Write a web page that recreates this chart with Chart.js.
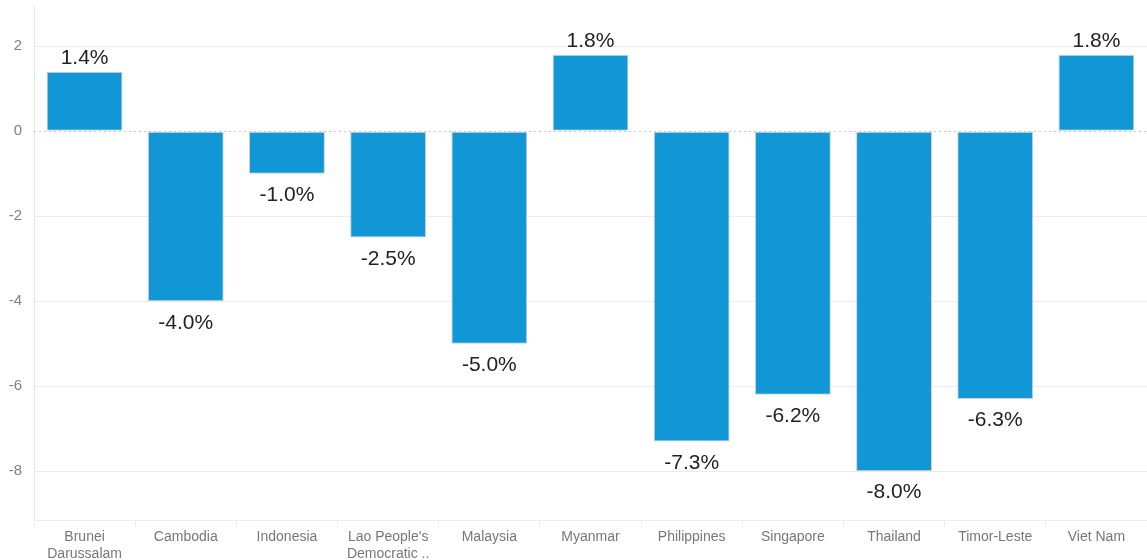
<!DOCTYPE html>
<html>
<head>
<meta charset="utf-8">
<script src="https://cdn.jsdelivr.net/npm/chart.js@4.4.1/dist/chart.umd.min.js"></script>
<style>
  html, body { margin: 0; padding: 0; background: #fff; }
  #wrap { width: 1147px; height: 560px; position: relative; }
</style>
</head>
<body>
<div id="wrap"><canvas id="growthChart"></canvas></div>
<script>
// Dados
const countries = [
    ['Brunei', 'Darussalam'], 'Cambodia', 'Indonesia', ["Lao People's", 'Democratic ..'],
    'Malaysia', 'Myanmar', 'Philippines', 'Singapore', 'Thailand', 'Timor-Leste', 'Viet Nam'
];
const growth = [1.4, -4.0, -1.0, -2.5, -5.0, 1.8, -7.3, -6.2, -8.0, -6.3, 1.8];
const yTicks = [2, 0, -2, -4, -6, -8];

const barColor = '#1297d6';
const font = 'Liberation Sans, Arial, Helvetica, sans-serif';

// Rótulos de valor acima/abaixo das barras + linha pontilhada do zero
const valueLabels = {
    id: 'valueLabels',
    beforeDatasetsDraw(chart) {
        const { ctx, chartArea, scales } = chart;
        const y0 = scales.y.getPixelForValue(0);
        ctx.save();
        ctx.strokeStyle = '#c8c8c8';
        ctx.lineWidth = 1;
        ctx.setLineDash([2, 3]);
        ctx.beginPath();
        ctx.moveTo(chartArea.left, Math.round(y0) + 0.5);
        ctx.lineTo(chartArea.right, Math.round(y0) + 0.5);
        ctx.stroke();
        ctx.restore();
    },
    afterDatasetsDraw(chart) {
        const { ctx } = chart;
        const meta = chart.getDatasetMeta(0);
        ctx.save();
        ctx.font = '21px ' + font;
        ctx.fillStyle = '#222';
        ctx.textAlign = 'center';
        meta.data.forEach((bar, i) => {
            const v = growth[i];
            const txt = v.toFixed(1) + '%';
            if (v >= 0) {
                ctx.textBaseline = 'bottom';
                ctx.fillText(txt, bar.x, bar.y - 3);
            } else {
                ctx.textBaseline = 'top';
                ctx.fillText(txt, bar.x, bar.y + 11);
            }
        });
        ctx.restore();
    }
};

new Chart(document.getElementById('growthChart'), {
    type: 'bar',
    data: {
        labels: countries,
        datasets: [{
            data: growth,
            backgroundColor: barColor,
            borderColor: '#d0d0d0',
            borderWidth: 1,
            borderSkipped: false,
            categoryPercentage: 0.75,
            barPercentage: 1.0
        }]
    },
    options: {
        responsive: true,
        maintainAspectRatio: false,
        animation: false,
        layout: { padding: { top: 6, right: 0, left: 0, bottom: 0 } },
        plugins: { legend: { display: false }, tooltip: { enabled: false } },
        scales: {
            y: {
                min: -9.15,
                max: 2.95,
                afterFit(scale) {
                    scale.width = 34;
                    scale.paddingTop = 0;
                    scale.paddingBottom = 0;
                },
                afterBuildTicks(scale) { scale.ticks = yTicks.map(v => ({ value: v })); },
                ticks: { color: '#808080', font: { family: font, size: 15 }, padding: 12 },
                grid: {
                    drawTicks: false,
                    color: c => c.tick && c.tick.value === 0 ? 'rgba(0,0,0,0)' : '#ececec'
                },
                border: { display: true, color: '#e6e6e6' }
            },
            x: {
                afterFit(scale) { scale.height = 40; },
                ticks: { color: '#777', font: { family: font, size: 14 }, padding: 2, maxRotation: 0, autoSkip: false },
                grid: { offset: true, drawOnChartArea: false, drawTicks: true, tickLength: 7, color: '#ececec' },
                border: { display: true, color: '#ececec' }
            }
        }
    },
    plugins: [valueLabels]
});
</script>
</body>
</html>
